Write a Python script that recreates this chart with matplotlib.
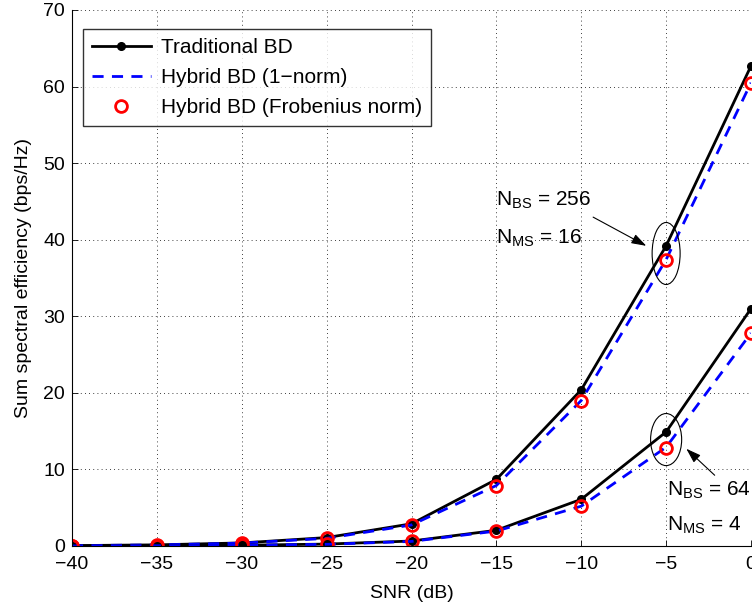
import matplotlib
matplotlib.use("Agg")
import matplotlib.pyplot as plt
from matplotlib.patches import Ellipse

plt.rcParams["font.family"] = ["Liberation Sans", "DejaVu Sans"]
plt.rcParams["mathtext.default"] = "regular"

snr = [-40, -35, -30, -25, -20, -15, -10, -5, 0]

# N_BS = 256, N_MS = 16
trad_256 = [0.05, 0.15, 0.4, 1.1, 2.9, 8.7, 20.4, 39.2, 62.7]
hyb1_256 = [0.05, 0.14, 0.38, 1.0, 2.75, 7.9, 19.0, 37.4, 60.5]
hybf_256 = [0.05, 0.14, 0.38, 1.0, 2.8, 7.85, 18.9, 37.3, 60.5]

# N_BS = 64, N_MS = 4
trad_64 = [0.01, 0.03, 0.1, 0.25, 0.65, 2.05, 6.1, 14.9, 31.0]
hyb1_64 = [0.01, 0.03, 0.09, 0.22, 0.6, 1.95, 5.2, 12.9, 27.8]
hybf_64 = [0.01, 0.03, 0.09, 0.22, 0.6, 2.0, 5.2, 12.8, 27.8]

fig = plt.figure(figsize=(7.52, 6.04), dpi=100)
ax = fig.add_axes([72 / 752, 58 / 604, 679 / 752, 536 / 604])

for trad, hyb1, hybf in [(trad_256, hyb1_256, hybf_256), (trad_64, hyb1_64, hybf_64)]:
    ax.plot(snr, trad, "k-", lw=2, marker="o", ms=5.5, label="Traditional BD")
    ax.plot(snr, hyb1, color="b", ls=(0, (4, 3)), lw=2, label="Hybrid BD (1\u2212norm)")
    ax.plot(snr, hybf, ls="none", marker="o", ms=8.5, mfc="none", mec="r", mew=2,
            label="Hybrid BD (Frobenius norm)")

ax.set_xlim(-40, 0)
ax.set_ylim(0, 70)
ax.set_xticks(range(-40, 1, 5))
ax.set_yticks(range(0, 71, 10))
ax.set_xticklabels(["\u2212%d" % -v if v < 0 else "0" for v in range(-40, 1, 5)])
ax.tick_params(direction="in", labelsize=14, length=4, width=0.6, pad=5,
               right=False, top=False)
ax.tick_params(axis="x", pad=7)
ax.grid(True, color="k", ls=(0, (1, 4)), lw=0.6)
ax.spines["top"].set_visible(False)
ax.spines["right"].set_visible(False)
for s in ["left", "bottom"]:
    ax.spines[s].set_linewidth(0.8)

ax.set_xlabel("SNR (dB)", fontsize=14, labelpad=9)
ax.set_ylabel("Sum spectral efficiency (bps/Hz)", fontsize=14, labelpad=8)

h, l = ax.get_legend_handles_labels()
leg = ax.legend(h[:3], l[:3], loc="upper left", bbox_to_anchor=(0.016, 0.965),
                borderaxespad=0, fontsize=15, frameon=True, fancybox=False,
                edgecolor="k", handlelength=2.8, borderpad=0.45, labelspacing=0.52,
                handletextpad=0.5)
leg.get_frame().set_linewidth(1.0)

ax.add_patch(Ellipse((-5, 38.2), 1.65, 8.1, fill=False, lw=0.8, ec="k", zorder=5))
ax.add_patch(Ellipse((-5, 13.9), 1.83, 6.8, fill=False, lw=0.8, ec="k", zorder=5))

arrow = dict(arrowstyle="-|>,head_length=0.9,head_width=0.3", lw=0.8, color="k",
             shrinkA=0, shrinkB=0)
ax.annotate("", xy=(-6.17, 39.2), xytext=(-9.3, 42.95), arrowprops=arrow)
ax.annotate("", xy=(-3.81, 12.7), xytext=(-2.14, 9.24), arrowprops=arrow)

ax.text(-15, 44.5, "$N_{BS}$ = 256", fontsize=15, va="baseline")
ax.text(-15, 39.5, "$N_{MS}$ = 16", fontsize=15, va="baseline")
ax.text(-4.95, 6.6, "$N_{BS}$ = 64", fontsize=15, va="baseline", clip_on=False)
ax.text(-4.95, 2.05, "$N_{MS}$ = 4", fontsize=15, va="baseline")

fig.savefig("out.png", dpi=100)
